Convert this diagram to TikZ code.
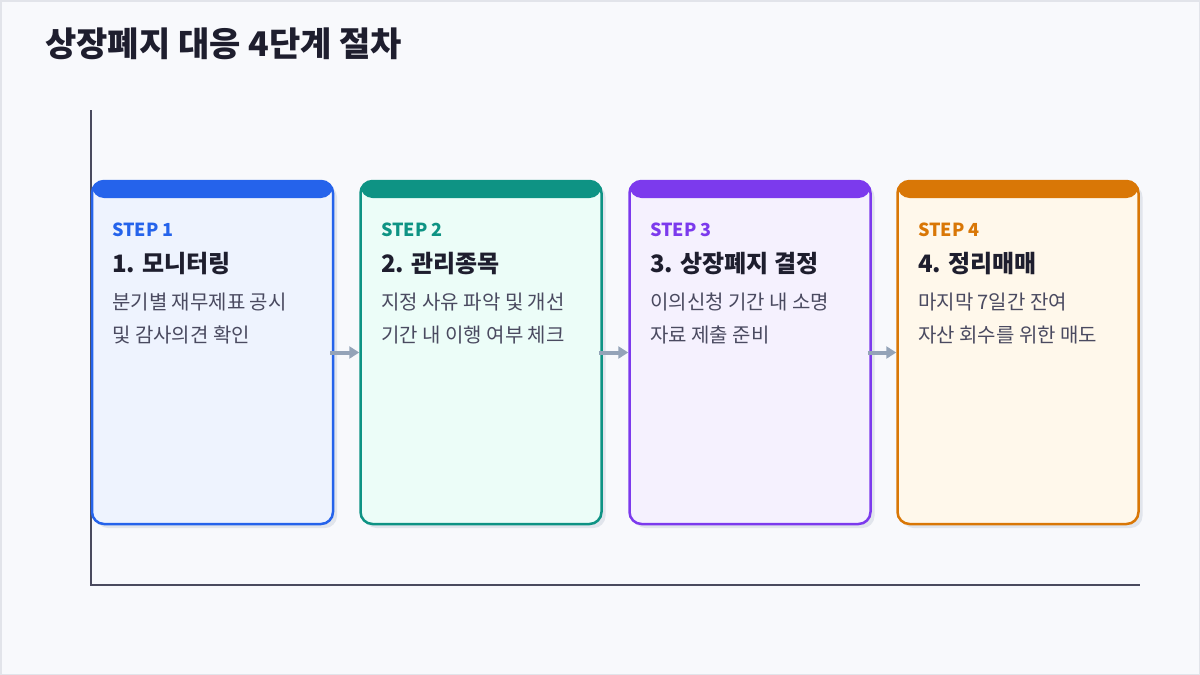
\documentclass[tikz,border=0pt]{standalone}
\usepackage{fontspec}
\setmainfont{Noto Sans CJK KR}
\usetikzlibrary{arrows.meta,shadows}

\definecolor{pagebg}{HTML}{F8F9FC}
\definecolor{pageline}{HTML}{E2E4EA}
\definecolor{ink}{HTML}{1E1E2E}
\definecolor{bodyink}{HTML}{4A4A60}
\definecolor{axisink}{HTML}{4A4A5E}
\definecolor{arrowink}{HTML}{94A3B8}
\definecolor{shade}{HTML}{E1E5EC}
\definecolor{blueA}{HTML}{2563EB}\definecolor{blueB}{HTML}{EEF3FE}
\definecolor{tealA}{HTML}{0E9384}\definecolor{tealB}{HTML}{ECFDF8}
\definecolor{purpA}{HTML}{7C3AED}\definecolor{purpB}{HTML}{F5F1FE}
\definecolor{oranA}{HTML}{D97706}\definecolor{oranB}{HTML}{FFF8EB}

\begin{document}
\begin{tikzpicture}[x=1pt,y=-1pt]
		\useasboundingbox (0,0) rectangle (1200,675);
		\draw[pageline, fill=pagebg, line width=1.5pt] (0.75,0.75) rectangle (1199.25,674.25);

		\node(title)[anchor=west, inner sep=0pt, text=ink, font=\fontsize{34}{38}\selectfont\bfseries] at (45,44) {상장폐지 대응 4단계 절차};

		% axes
		\coordinate (ytop) at (91,110);
		\coordinate (orig) at (91,585);
		\coordinate (xend) at (1140,585);
		\draw[axisink, line width=1.5pt] (ytop) -- (orig) -- (xend);

		\begin{scope}
            [
                card/.style={
					rounded corners=12pt, line width=2.5pt,
					minimum width=241pt, minimum height=343pt,
					drop shadow={shadow xshift=4pt, shadow yshift=-4pt, fill=shade, opacity=1},
					draw=#1, path picture={\fill[#1] (path picture bounding box.north west) rectangle ([yshift=-17pt]path picture bounding box.north east);}},
				steplbl/.style = {anchor=west, inner sep=0pt, font=\fontsize{18}{20}\selectfont\bfseries, text=#1},
				headlbl/.style = {anchor=west, inner sep=0pt, font=\fontsize{24}{28}\selectfont\bfseries, text=ink},
				bodylbl/.style = {anchor=west, inner sep=0pt, font=\fontsize{20}{24}\selectfont, text=bodyink}
            ]

			\node(c1)[card=blueA, fill=blueB] at (212.5,352.5) {};
			\node(c2)[card=tealA, fill=tealB] at (481,352.5) {};
			\node(c3)[card=purpA, fill=purpB] at (750,352.5) {};
			\node(c4)[card=oranA, fill=oranB] at (1018,352.5) {};

			\node(s1)[steplbl=blueA] at (112,230) {STEP 1};
			\node(h1)[headlbl] at (112,264) {1. 모니터링};
			\node(b1)[bodylbl] at (112,302) {분기별 재무제표 공시};
			\node(d1)[bodylbl] at (112,335) {및 감사의견 확인};

			\node(s2)[steplbl=tealA] at (381,230) {STEP 2};
			\node(h2)[headlbl] at (381,264) {2. 관리종목};
			\node(b2)[bodylbl] at (381,302) {지정 사유 파악 및 개선};
			\node(d2)[bodylbl] at (381,335) {기간 내 이행 여부 체크};

			\node(s3)[steplbl=purpA] at (650,230) {STEP 3};
			\node(h3)[headlbl] at (650,264) {3. 상장폐지 결정};
			\node(b3)[bodylbl] at (650,302) {이의신청 기간 내 소명};
			\node(d3)[bodylbl] at (650,335) {자료 제출 준비};

			\node(s4)[steplbl=oranA] at (918,230) {STEP 4};
			\node(h4)[headlbl] at (918,264) {4. 정리매매};
			\node(b4)[bodylbl] at (918,302) {마지막 7일간 잔여};
			\node(d4)[bodylbl] at (918,335) {자산 회수를 위한 매도};

		\end{scope}
		\begin{scope}
            [>={Triangle[length=10pt, width=12pt]},
                every edge/.style={draw=arrowink, line width=4pt, ->}
            ]
            \path 
            ([xshift=-4pt]c1.east) edge (c2.west)
            ([xshift=-4pt]c2.east) edge (c3.west)
            ([xshift=-4pt]c3.east) edge (c4.west);
		\end{scope}
    \end{tikzpicture}
\end{document}
